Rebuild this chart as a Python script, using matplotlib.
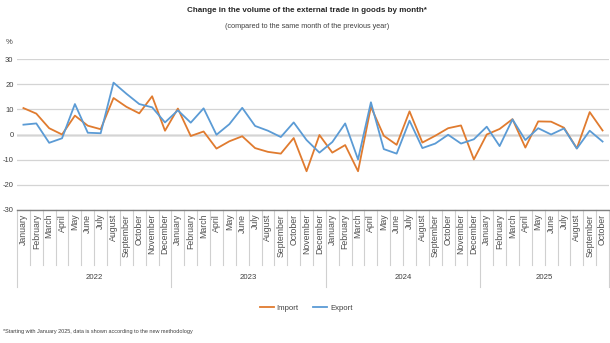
import matplotlib
matplotlib.use("Agg")
import matplotlib.pyplot as plt

# values (% change vs same month of previous year)
MONTHS = ["January", "February", "March", "April", "May", "June", "July",
          "August", "September", "October", "November", "December"]
YEARS = ["2022", "2023", "2024", "2025"]
MONTHS_PER_YEAR = [12, 12, 12, 10]

import_vals = [
    10.5, 8.3, 2.5, 0.0, 7.5, 3.5, 2.1, 14.5, 11.0, 8.4, 15.2, 1.5,
    10.3, -0.6, 1.2, -5.6, -2.7, -0.7, -5.4, -6.9, -7.6, -1.4, -14.6, -0.2,
    -7.2, -4.2, -14.6, 11.0, -0.5, -4.1, 9.2, -3.2, -0.5, 2.5, 3.6, -9.9,
    0.0, 2.2, 6.1, -5.2, 5.2, 5.1, 2.7, -5.5, 8.9, 1.6,
]
export_vals = [
    3.9, 4.4, -3.3, -1.5, 12.1, 0.7, 0.5, 20.6, 16.2, 12.1, 10.8, 4.8,
    9.6, 4.7, 10.4, -0.1, 4.1, 10.6, 3.4, 1.5, -1.0, 4.8, -2.2, -7.2,
    -3.0, 4.4, -9.9, 12.8, -5.8, -7.6, 5.5, -5.4, -3.6, -0.1, -3.6, -1.9,
    3.1, -4.6, 6.0, -2.2, 2.5, 0.0, 2.4, -5.6, 1.5, -2.8,
]

month_labels = []
for n in MONTHS_PER_YEAR:
    month_labels += MONTHS[:n]

FONT = ["Liberation Sans", "DejaVu Sans"]
TXT = "#404040"

fig = plt.figure(figsize=(6.10, 3.43), dpi=100)
ax = fig.add_axes([17 / 610, 1 - 210 / 343, 592 / 610, 151 / 343])

x = list(range(len(import_vals)))
ax.plot(x, import_vals, color="#E07B2F", lw=1.3, label="Import", zorder=3)
ax.plot(x, export_vals, color="#5B9BD5", lw=1.3, label="Export", zorder=3)

ax.set_ylim(-30, 30)
ax.set_xlim(-0.5, len(x) - 0.5)
ax.set_yticks(range(-30, 31, 10))
ax.set_yticklabels([str(v) for v in range(-30, 31, 10)], family=FONT,
                   fontsize=5.5, color=TXT)
ax.tick_params(axis="y", length=0, pad=2.5)
ax.grid(axis="y", color="#d4d4d4", lw=0.9, zorder=0)
ax.axhline(0, color="#8a8a8a", lw=1.0, zorder=1)
for s in ["left", "right", "top"]:
    ax.spines[s].set_visible(False)
ax.spines["bottom"].set_color("#7f7f7f")
ax.spines["bottom"].set_linewidth(1.0)

# month labels and separators under the axis
ax.set_xticks([])
tr = ax.get_xaxis_transform()
for i, m in enumerate(month_labels):
    ax.text(i, -0.025, m, rotation=90, ha="center", va="top", fontsize=6.3,
            family=FONT, color="#505050", transform=tr)
starts = [0]
for n in MONTHS_PER_YEAR:
    starts.append(starts[-1] + n)
for b in range(len(x) + 1):
    depth = -0.51 if b in starts else -0.365
    ax.plot([b - 0.5, b - 0.5], [0, depth], color="#d0d0d0", lw=0.8,
            transform=tr, clip_on=False)
for k, yr in enumerate(YEARS):
    mid = (starts[k] + starts[k + 1] - 1) / 2
    ax.text(mid, -0.445, yr, ha="center", va="center", fontsize=5.6,
            family=FONT, color=TXT, transform=tr)

fig.text(0.503, 1 - 10 / 343, "Change in the volume of the external trade in goods by month*",
         ha="center", va="center", fontsize=5.8, fontweight="bold",
         family=FONT, color="#262626")
fig.text(0.503, 1 - 27 / 343, "(compared to the same month of the previous year)",
         ha="center", va="center", fontsize=5.2, family=FONT, color=TXT)
fig.text(6 / 610, 1 - 43 / 343, "%", ha="left", va="center", fontsize=5.5,
         family=FONT, color=TXT)
fig.text(3 / 610, 1 - 331 / 343,
         "*Starting with January 2025, data is shown according to the new methodology",
         ha="left", va="center", fontsize=4.0, family=FONT, color=TXT)

leg = fig.legend(loc="center", bbox_to_anchor=(306 / 610, 1 - 308 / 343), ncol=2,
                 frameon=False, prop={"family": FONT, "size": 5.6},
                 handlelength=1.8, handletextpad=0.4, columnspacing=1.8)
for t in leg.get_texts():
    t.set_color(TXT)

fig.savefig("out.png", dpi=100, facecolor="white")
